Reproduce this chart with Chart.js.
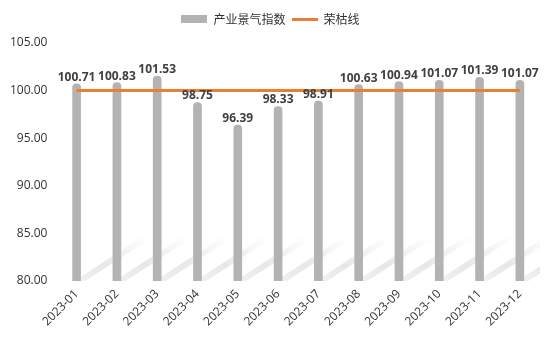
<!DOCTYPE html>
<html>
<head>
<meta charset="utf-8">
<script src="https://cdn.jsdelivr.net/npm/chart.js@4"></script>
<style>
html,body{margin:0;padding:0;background:#fff;}
#wrap{width:554px;height:352px;position:relative;}
</style>
</head>
<body>
<div id="wrap"><canvas id="c"></canvas></div>
<script>
const categories = ['2023-01','2023-02','2023-03','2023-04','2023-05','2023-06','2023-07','2023-08','2023-09','2023-10','2023-11','2023-12'];
const indexValues = [100.71,100.83,101.53,98.75,96.39,98.33,98.91,100.63,100.94,101.07,101.39,101.07];
const thresholdValues = [100,100,100,100,100,100,100,100,100,100,100,100];
const yTicks = [80,85,90,95,100,105];
const seriesNames = ['产业景气指数','荣枯线'];

const GREY = '#b3b3b3';
const ORANGE = '#ed7d31';

function makeSwatch(w,h,color){
  const c=document.createElement('canvas'); c.width=w; c.height=h;
  const x=c.getContext('2d'); x.fillStyle=color; x.fillRect(0,0,w,h); return c;
}
const barSwatch = makeSwatch(26,8,GREY);
const lineSwatch = makeSwatch(26,3,ORANGE);

const legendGapPlugin = {
  id:'legendGap',
  beforeUpdate(chart){
    const lg=chart.legend;
    if(lg && !lg._gapPatched){
      const orig=lg.fit;
      lg.fit=function(){orig.apply(this,arguments); this.height+=8;};
      lg._gapPatched=true;
    }
  }
};

const shadowPlugin = {
  id:'barShadow',
  afterDatasetsDraw(chart){
    const ctx=chart.ctx, a=chart.chartArea;
    const yScale=chart.scales.y;
    const base=yScale.getPixelForValue(yScale.min);
    const meta=chart.getDatasetMeta(0);
    ctx.save();
    ctx.beginPath(); ctx.rect(a.left,a.top,a.right-a.left,a.bottom-a.top); ctx.clip();
    ctx.globalCompositeOperation='destination-over';
    meta.data.forEach(bar=>{
      const x0=bar.x+3, y0=base;
      const x1=x0+68, y1=y0-44;
      const g=ctx.createLinearGradient(x0,y0,x1,y1);
      g.addColorStop(0,'rgba(0,0,0,0.05)');
      g.addColorStop(0.35,'rgba(0,0,0,0.09)');
      g.addColorStop(1,'rgba(0,0,0,0)');
      ctx.strokeStyle=g; ctx.lineWidth=6; ctx.lineCap='round';
      ctx.shadowColor='rgba(0,0,0,0.06)'; ctx.shadowBlur=4;
      ctx.beginPath(); ctx.moveTo(x0,y0); ctx.lineTo(x1,y1); ctx.stroke();
    });
    ctx.restore();
  }
};

const labelPlugin = {
  id:'barLabels',
  afterDatasetsDraw(chart){
    const ctx=chart.ctx;
    const meta=chart.getDatasetMeta(0);
    ctx.save();
    ctx.font='bold 12px "Open Sans"';
    ctx.fillStyle='#404040';
    ctx.textAlign='center';
    ctx.textBaseline='alphabetic';
    meta.data.forEach((bar,i)=>{
      ctx.fillText(indexValues[i].toFixed(2), bar.x, bar.y-3);
    });
    ctx.restore();
  }
};

new Chart(document.getElementById('c'),{
  type:'bar',
  data:{
    labels:categories,
    datasets:[
      {label:seriesNames[0],data:indexValues,backgroundColor:GREY,barThickness:8,borderRadius:4,borderSkipped:false,order:1,pointStyle:barSwatch},
      {type:'line',label:seriesNames[1],data:thresholdValues,borderColor:ORANGE,backgroundColor:ORANGE,borderWidth:3,pointRadius:0,tension:0,order:0,pointStyle:lineSwatch}
    ]
  },
  options:{
    responsive:true,maintainAspectRatio:false,animation:false,
    layout:{padding:{top:7,left:1,right:14,bottom:17}},
    plugins:{
      tooltip:{enabled:false},
      legend:{
        position:'top',
        labels:{usePointStyle:true,pointStyleWidth:26,boxHeight:8,padding:6,color:'#333',
          sort:(a,b)=>a.datasetIndex-b.datasetIndex,
          font:{family:'"Noto Sans CJK SC"',size:12}}
      }
    },
    scales:{
      x:{
        grid:{display:false,drawTicks:false},border:{display:false},
        ticks:{maxRotation:45,minRotation:45,color:'#333',padding:6,font:{family:'"Open Sans"',size:12}}
      },
      y:{
        min:80,max:105,
        afterBuildTicks(axis){axis.ticks=yTicks.map(v=>({value:v}));},
        grid:{display:false,drawTicks:false},border:{display:false},
        ticks:{color:'#333',padding:9,font:{family:'"Open Sans"',size:12},callback:v=>Number(v).toFixed(2)}
      }
    }
  },
  plugins:[legendGapPlugin,shadowPlugin,labelPlugin]
});
</script>
</body>
</html>
